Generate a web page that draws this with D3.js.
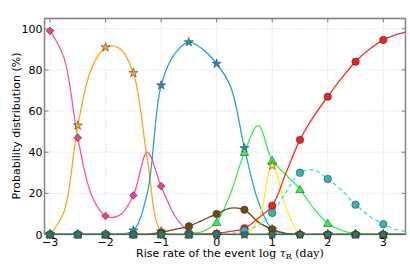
<!DOCTYPE html>
<html><head><meta charset="utf-8">
<script src="https://cdn.jsdelivr.net/npm/d3@7"></script>
<style>body{margin:0;background:#fff;} svg{display:block;}</style>
</head><body>
<svg id="chart" width="410" height="267"></svg>
<script>
// ---- data ----
const markerX = [-3, -2.5, -2, -1.5, -1, -0.5, 0, 0.5, 1, 1.5, 2, 2.5, 3];
const curveX = [-3, -2.75, -2.5, -2.25, -2, -1.75, -1.5, -1.25, -1, -0.75, -0.5, -0.25, 0, 0.25, 0.5, 0.75, 1, 1.25, 1.5, 1.75, 2, 2.25, 2.5, 2.75, 3, 3.25, 3.4];

const pinkPts   = [99, 47, 9, 19, 23.5, 1.5, 0, 0, 0, 0, 0, 0, 0];
const orangePts = [0, 53, 91, 78.5, 1.5, 0, 0, 0, 0, 0, 0, 0, 0];
const bluePts   = [0, 0, 0, 2, 72.5, 93.5, 83, 42, 2.5, 0, 0, 0, 0];
const greenPts  = [0, 0, 0, 0, 0, 0, 6, 40, 36, 22, 5.5, 0.5, 0];
const yellowPts = [0, 0, 0, 0, 0, 0, 0, 0, 33.5, 0, 0, 0, 0];
const brownPts  = [0, 0, 0, 0, 1, 4, 10, 12, 2.5, 0, 0, 0, 0];
const redPts    = [0, 0, 0, 0, 0, 0, 0.5, 3, 14, 46, 67, 84, 94.6];
const cyanPts   = [0, 0, 0, 0, 0, 0, 0, 2, 10.5, 30, 27, 14.5, 5];
const otherPts  = [0, 0, 0, 0, 0, 0, 0, 0, 0, 0, 0, 0, 0];

const pinkCurve   = [99, 86, 47, 19, 9, 9.3, 19, 40, 23.5, 9, 1.5, 0.3, 0, 0, 0, 0, 0, 0, 0, 0, 0, 0, 0, 0, 0, 0, 0];
const orangeCurve = [0, 11, 53, 81, 91, 90.5, 78.5, 37, 1.5, 0, 0, 0, 0, 0, 0, 0, 0, 0, 0, 0, 0, 0, 0, 0, 0, 0, 0];
const blueCurve   = [0, 0, 0, 0, 0, 0.2, 2, 20, 72.5, 88, 93.5, 90, 83, 72, 42, 16, 2.5, 0.3, 0, 0, 0, 0, 0, 0, 0, 0, 0];
const greenCurve  = [0, 0, 0, 0, 0, 0, 0, 0, 0, 0, 0.3, 1.5, 6, 20, 40, 53, 36, 29, 22, 12.5, 5.5, 2, 0.5, 0.1, 0, 0, 0];
const yellowCurve = [0, 0, 0, 0, 0, 0, 0, 0, 0, 0, 0, 0, 0, 0, 0, 7, 34, 13, 0, 0, 0, 0, 0, 0, 0, 0, 0];
const brownCurve  = [0, 0, 0, 0, 0, 0, 0, 0.2, 1, 2.5, 4, 7, 10, 12.8, 12, 6, 2.5, 0.5, 0, 0, 0, 0, 0, 0, 0, 0, 0];
const redCurve    = [0, 0, 0, 0, 0, 0, 0, 0, 0, 0, 0, 0.2, 0.5, 1.5, 3, 8, 14, 30, 46, 57.5, 67, 76, 84, 90, 94.6, 97.3, 98.4];
const cyanCurve   = [0, 0, 0, 0, 0, 0, 0, 0, 0, 0, 0, 0, 0, 0.4, 2, 4.5, 10.5, 20.6, 30, 31.3, 27, 21.5, 14.5, 9, 5, 2.3, 1.5];
const otherCurve  = [0, 0, 0, 0, 0, 0, 0, 0, 0, 0, 0, 0, 0, 0, 0, 0, 0, 0, 0, 0, 0, 0, 0, 0, 0, 0, 0];

const xTicks = [-3, -2, -1, 0, 1, 2, 3];
const yTicks = [0, 20, 40, 60, 80, 100];

// ---- chart ----
const svg = d3.select("#chart");
const L = 44.5, R = 405.5, T = 18.5, B = 234.5;
const x = d3.scaleLinear().domain([-3.1, 3.4]).range([L, R]);
const y = d3.scaleLinear().domain([0, 105]).range([B, T]);
const sans = "DejaVu Sans, sans-serif";

svg.append("defs").append("clipPath").attr("id", "clip")
  .append("rect").attr("x", L).attr("y", T).attr("width", R - L).attr("height", B - T + 0.6);

// grid
const grid = svg.append("g");
grid.selectAll(".gx").data(xTicks).join("line")
  .attr("x1", d => x(d)).attr("x2", d => x(d)).attr("y1", T).attr("y2", B)
  .attr("stroke", "#c8c8c8").attr("stroke-width", 0.8).attr("stroke-dasharray", "1,2");
grid.selectAll(".gy").data(yTicks.filter(d => d > 0)).join("line")
  .attr("x1", L).attr("x2", R).attr("y1", d => y(d)).attr("y2", d => y(d))
  .attr("stroke", "#c8c8c8").attr("stroke-width", 0.8).attr("stroke-dasharray", "1,2");

const series = [
  {pts: pinkPts, curve: pinkCurve, color: "#ff4fa3", fill: "#f0408f", shape: "diamond"},
  {pts: orangePts, curve: orangeCurve, color: "#ffa51f", fill: "#ffa51f", shape: "star"},
  {pts: bluePts, curve: blueCurve, color: "#25a3d3", fill: "#1f93c0", shape: "star"},
  {pts: greenPts, curve: greenCurve, color: "#33f050", fill: "#33ee50", shape: "triangle"},
  {pts: yellowPts, curve: yellowCurve, color: "#ffec1a", fill: "#ffe81a", shape: "star"},
  {pts: brownPts, curve: brownCurve, color: "#6e4a10", fill: "#6b4a12", shape: "circle"},
  {pts: redPts, curve: redCurve, color: "#ff2a2a", fill: "#ee2222", shape: "circle"},
  {pts: cyanPts, curve: cyanCurve, color: "#44dede", fill: "#33b5b5", shape: "circle", dash: "4,3"},
  {pts: otherPts, curve: otherCurve, color: "#2f6f60", fill: "#2f7868", shape: "square"}
];

const line = d3.line().x((d, i) => x(curveX[i])).y(d => y(d)).curve(d3.curveCatmullRom.alpha(0.5));
const plot = svg.append("g").attr("clip-path", "url(#clip)");
const marks = svg.append("g");

function sym(shape) {
  if (shape === "diamond") return d3.symbol().type(d3.symbolSquare).size(30)();
  if (shape === "star") return d3.symbol().type(d3.symbolStar).size(26)();
  if (shape === "triangle") return d3.symbol().type(d3.symbolTriangle).size(32)();
  if (shape === "square") return d3.symbol().type(d3.symbolSquare).size(30)();
  return d3.symbol().type(d3.symbolCircle).size(44)();
}

series.forEach(s => {
  plot.append("path").datum(s.curve).attr("d", line)
    .attr("fill", "none").attr("stroke", s.color).attr("stroke-width", 1.3)
    .attr("stroke-dasharray", s.dash || null);
});
series.forEach(s => {
  marks.selectAll(null).data(s.pts).join("path")
    .attr("d", sym(s.shape))
    .attr("transform", (d, i) => `translate(${x(markerX[i])},${y(d)})` + (s.shape === "diamond" ? " rotate(45)" : "") + (s.shape === "triangle" ? " translate(0,0.8)" : ""))
    .attr("fill", s.fill).attr("stroke", "#333").attr("stroke-opacity", 0.75).attr("stroke-width", 0.7);
});

// frame
svg.insert("rect", "g").attr("x", L).attr("y", T).attr("width", R - L).attr("height", B - T)
  .attr("fill", "none").attr("stroke", "#888").attr("stroke-width", 1.3);
svg.append("line").attr("x1", L).attr("x2", L).attr("y1", T).attr("y2", B).attr("stroke", "#888").attr("stroke-width", 1.3);
svg.append("line").attr("x1", R).attr("x2", R).attr("y1", T).attr("y2", B).attr("stroke", "#888").attr("stroke-width", 1.3);
svg.append("line").attr("x1", L).attr("x2", R).attr("y1", T).attr("y2", T).attr("stroke", "#888").attr("stroke-width", 1.3);

// ticks (inward)
const tk = svg.append("g").attr("stroke", "#666").attr("stroke-width", 0.8);
xTicks.forEach(t => {
  tk.append("line").attr("x1", x(t)).attr("x2", x(t)).attr("y1", T).attr("y2", T + 4);
});
yTicks.forEach(t => {
  tk.append("line").attr("x1", L).attr("x2", L + 4).attr("y1", y(t)).attr("y2", y(t));
  tk.append("line").attr("x1", R).attr("x2", R - 4).attr("y1", y(t)).attr("y2", y(t));
});

// tick labels
svg.selectAll(".xl").data(xTicks).join("text")
  .attr("x", d => x(d)).attr("y", 245.5).attr("text-anchor", "middle")
  .attr("font-family", sans).attr("font-size", 11).attr("fill", "#000")
  .text(d => d < 0 ? "\u2212" + Math.abs(d) : d);
svg.selectAll(".yl").data(yTicks).join("text")
  .attr("x", 42.5).attr("y", d => y(d) + 4).attr("text-anchor", "end")
  .attr("font-family", sans).attr("font-size", 11).attr("fill", "#000")
  .text(d => d);

// axis labels
svg.append("text").attr("transform", "translate(20,126) rotate(-90)")
  .attr("text-anchor", "middle").attr("font-family", sans).attr("font-size", 11)
  .text("Probability distribution (%)");

const xl = svg.append("text").attr("x", 136).attr("y", 257).attr("font-family", sans).attr("font-size", 11);
xl.append("tspan").text("Rise rate of the event ");
xl.append("tspan").attr("font-family", "DejaVu Serif, serif").text("log ");
xl.append("tspan").attr("font-family", "DejaVu Serif, serif").attr("font-style", "italic").text("\u03C4");
xl.append("tspan").attr("font-family", "DejaVu Serif, serif").attr("font-size", 8).attr("dy", 2).text("R");
xl.append("tspan").attr("font-family", "DejaVu Serif, serif").attr("dy", -2).text(" (day)");
</script>
</body></html>
